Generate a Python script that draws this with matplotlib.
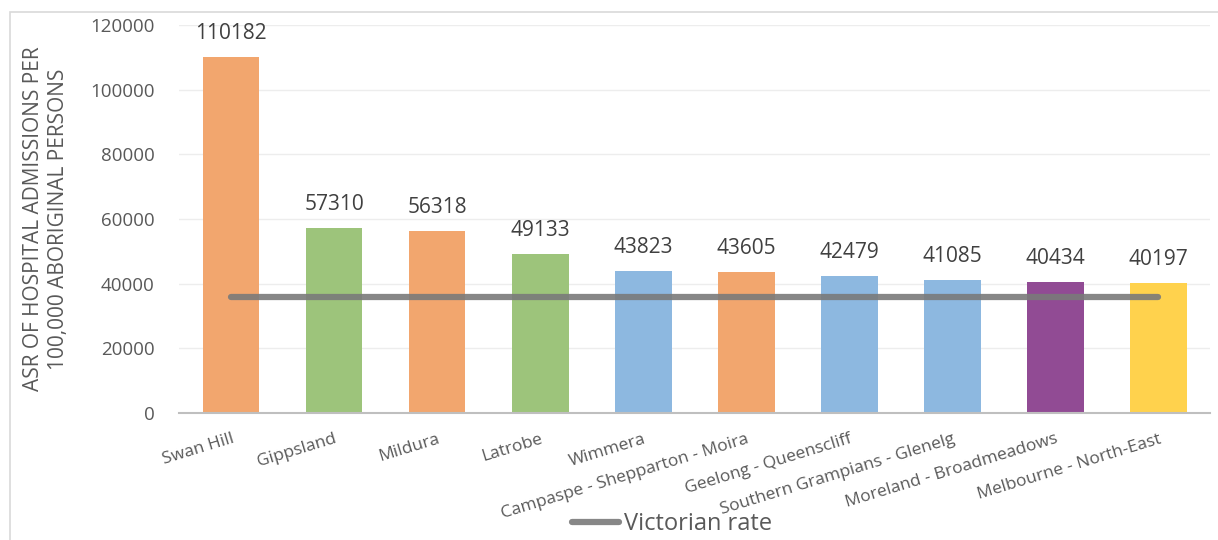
import matplotlib.pyplot as plt
import numpy as np

regions = ['Swan Hill', 'Gippsland', 'Mildura', 'Latrobe', 'Wimmera',
           'Campaspe - Shepparton - Moira', 'Geelong - Queenscliff',
           'Southern Grampians - Glenelg', 'Moreland - Broadmeadows',
           'Melbourne - North-East']
asr = [110182, 57310, 56318, 49133, 43823, 43605, 42479, 41085, 40434, 40197]
victorian_rate = [36000] * len(regions)
bar_colors = ['#F2A66E', '#9DC47B', '#F2A66E', '#9DC47B', '#8DB8E0',
              '#F2A66E', '#8DB8E0', '#8DB8E0', '#914B94', '#FFD24D']

plt.rcParams['font.family'] = ['Open Sans', 'DejaVu Sans']
txt = '#595959'

fig = plt.figure(figsize=(12.18, 5.40), dpi=100)
ax = fig.add_axes([179.5 / 1218, 1 - 413 / 540, (1210 - 179.5) / 1218, 388 / 540])

# chart border
fig.patches.append(plt.Rectangle((10 / 1218, -0.05), 1.2, 1 - 12 / 540 + 0.05,
                                 transform=fig.transFigure, fill=False,
                                 edgecolor='#D9D9D9', lw=1.2))

x = np.arange(len(regions))
bars = ax.bar(x, asr, width=0.55, color=bar_colors, zorder=2)
for xi, v in zip(x, asr):
    ax.text(xi, v + 4000, str(v), ha='center', va='bottom', fontsize=15, color='#404040')

ax.plot(x, victorian_rate, color='#7A7A7A', lw=4.5, alpha=0.9,
        solid_capstyle='round', zorder=3, label='Victorian rate')

ax.set_xlim(-0.5, len(regions) - 0.5)
ax.set_ylim(0, 120000)
ax.set_yticks(range(0, 120001, 20000))
ax.tick_params(axis='y', length=0, labelsize=13.5, labelcolor=txt, pad=18)
ax.tick_params(axis='x', length=0, pad=13)
ax.set_xticks(x)
ax.set_xticklabels(regions, rotation=17, ha='right', rotation_mode='anchor',
                   fontsize=12.5, color=txt)
ax.grid(axis='y', color='#EDEDED', lw=1, zorder=0)
for s in ['top', 'right', 'left']:
    ax.spines[s].set_visible(False)
ax.spines['bottom'].set_color('#BFBFBF')
ax.spines['bottom'].set_linewidth(1.5)

ax.set_ylabel('ASR OF HOSPITAL ADMISSIONS PER\n100,000 ABORIGINAL PERSONS',
              fontsize=15, color=txt, labelpad=15, linespacing=1.25)

fig.legend(loc='center', bbox_to_anchor=(672 / 1218, 1 - 524 / 540), frameon=False,
           fontsize=17, labelcolor=txt, handlelength=2.0, handletextpad=0.2)

fig.savefig('out.png', dpi=100)
